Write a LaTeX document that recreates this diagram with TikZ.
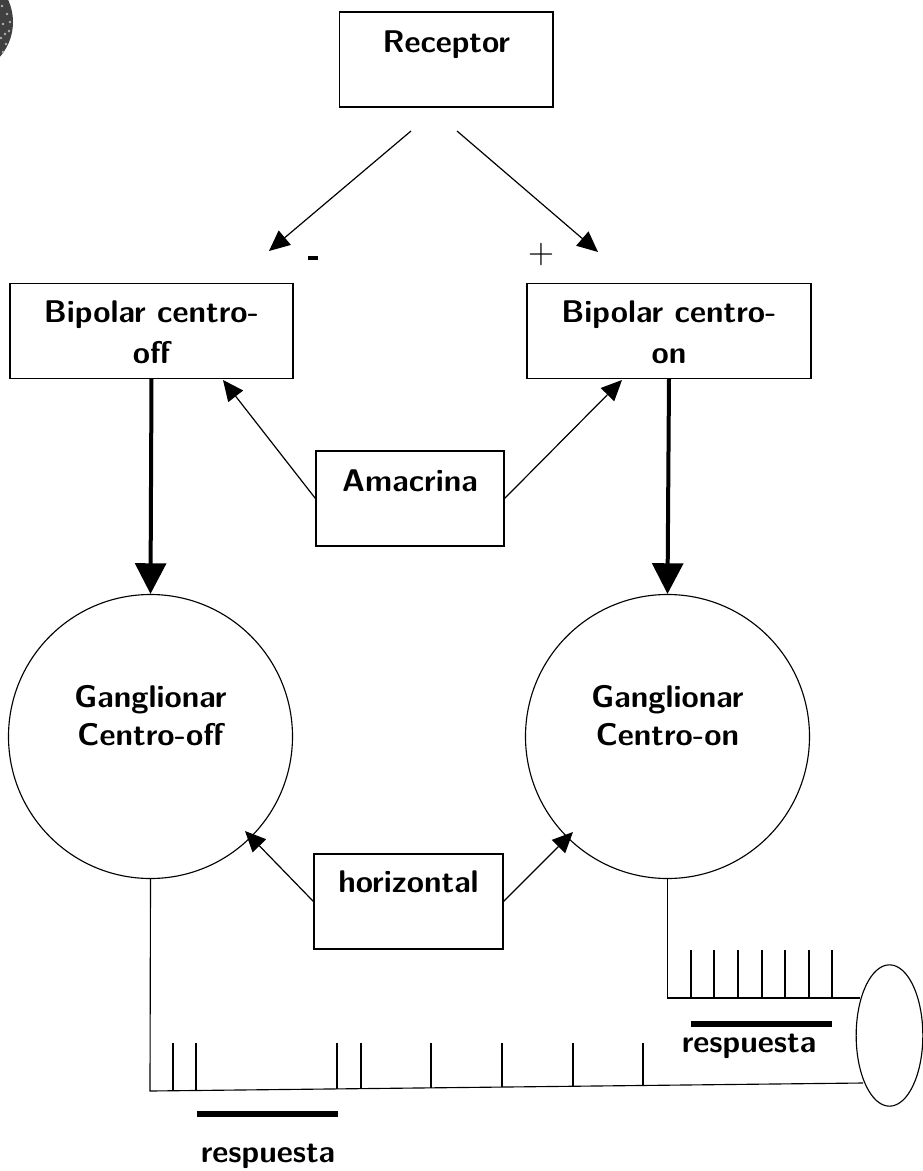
\documentclass[tikz,border=0pt]{standalone}
\usepackage{fontspec}
\setsansfont{Latin Modern Sans}
\usetikzlibrary{arrows.meta,shapes.geometric}
\newcommand{\lift}[2]{\raisebox{#1}[0pt][0pt]{#2}}
\tikzset{
  every node/.style={font=\sffamily\bfseries\fontsize{23.5}{28.5}\selectfont},
  boxnode/.style={draw,line width=0.85pt,inner sep=0pt,align=center},
  circ/.style={draw,circle,line width=0.85pt,minimum size=213pt,inner sep=0pt,align=center},
  thin arrow/.style={line width=0.9pt,-{Triangle[length=15.5pt,width=14pt]}},
  thick arrow/.style={line width=3pt,-{Triangle[length=23pt,width=23pt]}},
  trace/.style={line width=0.85pt},
  bar/.style={line width=5pt},
  sign/.style={inner sep=0pt}
}
\begin{document}
\begin{tikzpicture}[x=0.75pt,y=-0.75pt]
\useasboundingbox (0,0) rectangle (923,1171);
% textured disc corner
\begin{scope}
\clip (0,0) rectangle (923,1171);
\fill[black!75] (-40,22) circle (53);
\foreach \a/\b in {2/6,7/14,3/24,9/31,1/38,6/44,3/52,10/22,5/34}
  \fill[black!30] (\a,\b) circle (1.3);
\end{scope}
% boxes
\node[boxnode,minimum width=160pt,minimum height=71.25pt] (rec) at (446.3,59.5) {\lift{5.6pt}{Receptor}};
\node[boxnode,minimum width=212.25pt,minimum height=70.9pt] (boff) at (151.5,331)
  {\lift{6.4pt}{\begin{tabular}[t]{@{}c@{}}Bipolar centro-\\[1.9pt]off\end{tabular}}};
\node[boxnode,minimum width=213pt,minimum height=70.9pt] (bon) at (669,331)
  {\lift{6.4pt}{\begin{tabular}[t]{@{}c@{}}Bipolar centro-\\[1.9pt]on\end{tabular}}};
\node[boxnode,minimum width=141pt,minimum height=71.25pt] (ama) at (410,498.5) {\lift{5.6pt}{Amacrina}};
\node[boxnode,minimum width=141.75pt,minimum height=71.25pt] (hor) at (408.5,901.5) {\lift{6.4pt}{horizontal}};
% circles
\node[circ] (goff) at (150.5,736.5) {\lift{21.4pt}{\begin{tabular}[t]{@{}c@{}}Ganglionar\\Centro-off\end{tabular}}};
\node[circ] (gon) at (667.5,736.5) {\lift{21.4pt}{\begin{tabular}[t]{@{}c@{}}Ganglionar\\Centro-on\end{tabular}}};
% oval
\node[draw,ellipse,line width=0.85pt,minimum width=50pt,minimum height=106pt,inner sep=0pt] (oval) at (889.5,1035.5) {};
% signs
\node[sign] (minus) at (313,258) {\rule{8pt}{3.2pt}};
\node[sign] (plus) at (541.5,255) {\fontsize{27}{27}\selectfont\normalfont +};
% labels
\node[inner sep=0pt,anchor=base] (resp1) at (749,1052) {respuesta};
\node[inner sep=0pt,anchor=base] (resp2) at (268,1162) {respuesta};
% connector ends
\coordinate (recL) at (411,131);
\coordinate (recR) at (457,131);
\coordinate (tipL) at (269,251);
\coordinate (tipR) at (598,252);
\coordinate (amaL) at (223,380);
\coordinate (amaR) at (622,380);
\coordinate (horL) at (245,831);
\coordinate (horR) at (573,832);
\draw[thin arrow] (recL) -- (tipL);
\draw[thin arrow] (recR) -- (tipR);
\draw[thick arrow] (boff.south) -- (goff.north);
\draw[thick arrow] (bon.south) -- (gon.north);
\draw[thin arrow] (ama.west) -- (amaL);
\draw[thin arrow] (ama.east) -- (amaR);
\draw[thin arrow] (hor.west) -- (horL);
\draw[thin arrow] (hor.east) -- (horR);
% traces
\coordinate (offcorner) at (150,1091);
\coordinate (oncorner) at (667.5,998);
\coordinate (ovalL) at (863,1083);
\coordinate (ovalU) at (860,998);
\draw[trace] (goff.south) -- (offcorner) -- (ovalL);
\draw[trace] (gon.south) -- (oncorner) -- (ovalU);
\foreach \x/\y in {173/1090.6,196/1090.4,337/1089,361/1088.7,431/1088,502/1087.2,573/1086.6,643/1086}
  \draw[trace] (\x,\y) -- (\x,1043);
\foreach \x in {691,714,738,762,785,809,832}
  \draw[trace] (\x,998) -- (\x,950);
% bars
\coordinate (bar1a) at (691,1024);
\coordinate (bar1b) at (832,1024);
\coordinate (bar2a) at (197,1114);
\coordinate (bar2b) at (338,1114);
\draw[bar] (bar1a) -- (bar1b);
\draw[bar] (bar2a) -- (bar2b);
\end{tikzpicture}
\end{document}
